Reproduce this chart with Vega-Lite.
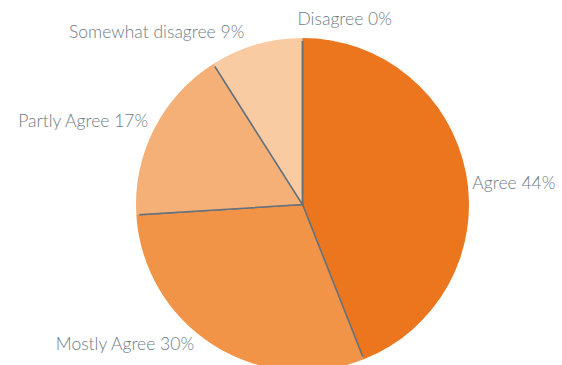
{
  "$schema": "https://vega.github.io/schema/vega-lite/v6.json",
  "autosize": {"type": "fit", "contains": "padding"},
  "width": 562,
  "height": 365,
  "padding": {"left": 38, "top": 32, "right": 0, "bottom": 0},
  "background": "white",
  "view": {"stroke": null},
  "data": {"values": [
    {"category": "Agree", "value": 44, "order": 1},
    {"category": "Mostly Agree", "value": 30, "order": 2},
    {"category": "Partly Agree", "value": 17, "order": 3},
    {"category": "Somewhat disagree", "value": 9, "order": 4},
    {"category": "Disagree", "value": 0, "order": 5}
  ]},
  "encoding": {
    "theta": {"field": "value", "type": "quantitative", "stack": true},
    "order": {"field": "order", "type": "quantitative"},
    "color": {
      "field": "category", "type": "nominal", "legend": null,
      "scale": {
        "domain": ["Agree", "Mostly Agree", "Partly Agree", "Somewhat disagree", "Disagree"],
        "range": ["#EC761E", "#F19447", "#F5B077", "#F9CBA3", "#FBDDC2"]
      }
    }
  },
  "layer": [
    {"mark": {"type": "arc", "radius": 165, "stroke": "#66737d", "strokeWidth": 1.5}},
    {"mark": {"type": "arc", "radius": 166.5, "radius2": 163.5, "strokeWidth": 0}},
    {
      "mark": {
        "type": "text", "radius": 180, "font": "Lato", "fontSize": 17.5, "fontWeight": 300, "color": "#6e7b85",
        "align": {"expr": "datum.category == 'Agree' || datum.category == 'Disagree' ? 'left' : 'right'"},
        "baseline": "middle",
        "dx": {"expr": "datum.category == 'Agree' ? -7 : datum.category == 'Mostly Agree' ? -12 : datum.category == 'Partly Agree' ? 6 : datum.category == 'Somewhat disagree' ? -8 : -5"},
        "dy": {"expr": "datum.category == 'Agree' ? 13 : datum.category == 'Mostly Agree' ? -11 : datum.category == 'Partly Agree' ? -1 : datum.category == 'Somewhat disagree' ? 1 : -5"}
      },
      "encoding": {
        "text": {"field": "label", "type": "nominal"},
        "color": {"value": "#6e7b85"}
      },
      "transform": [{"calculate": "datum.category + ' ' + datum.value + '%'", "as": "label"}]
    }
  ]
}
